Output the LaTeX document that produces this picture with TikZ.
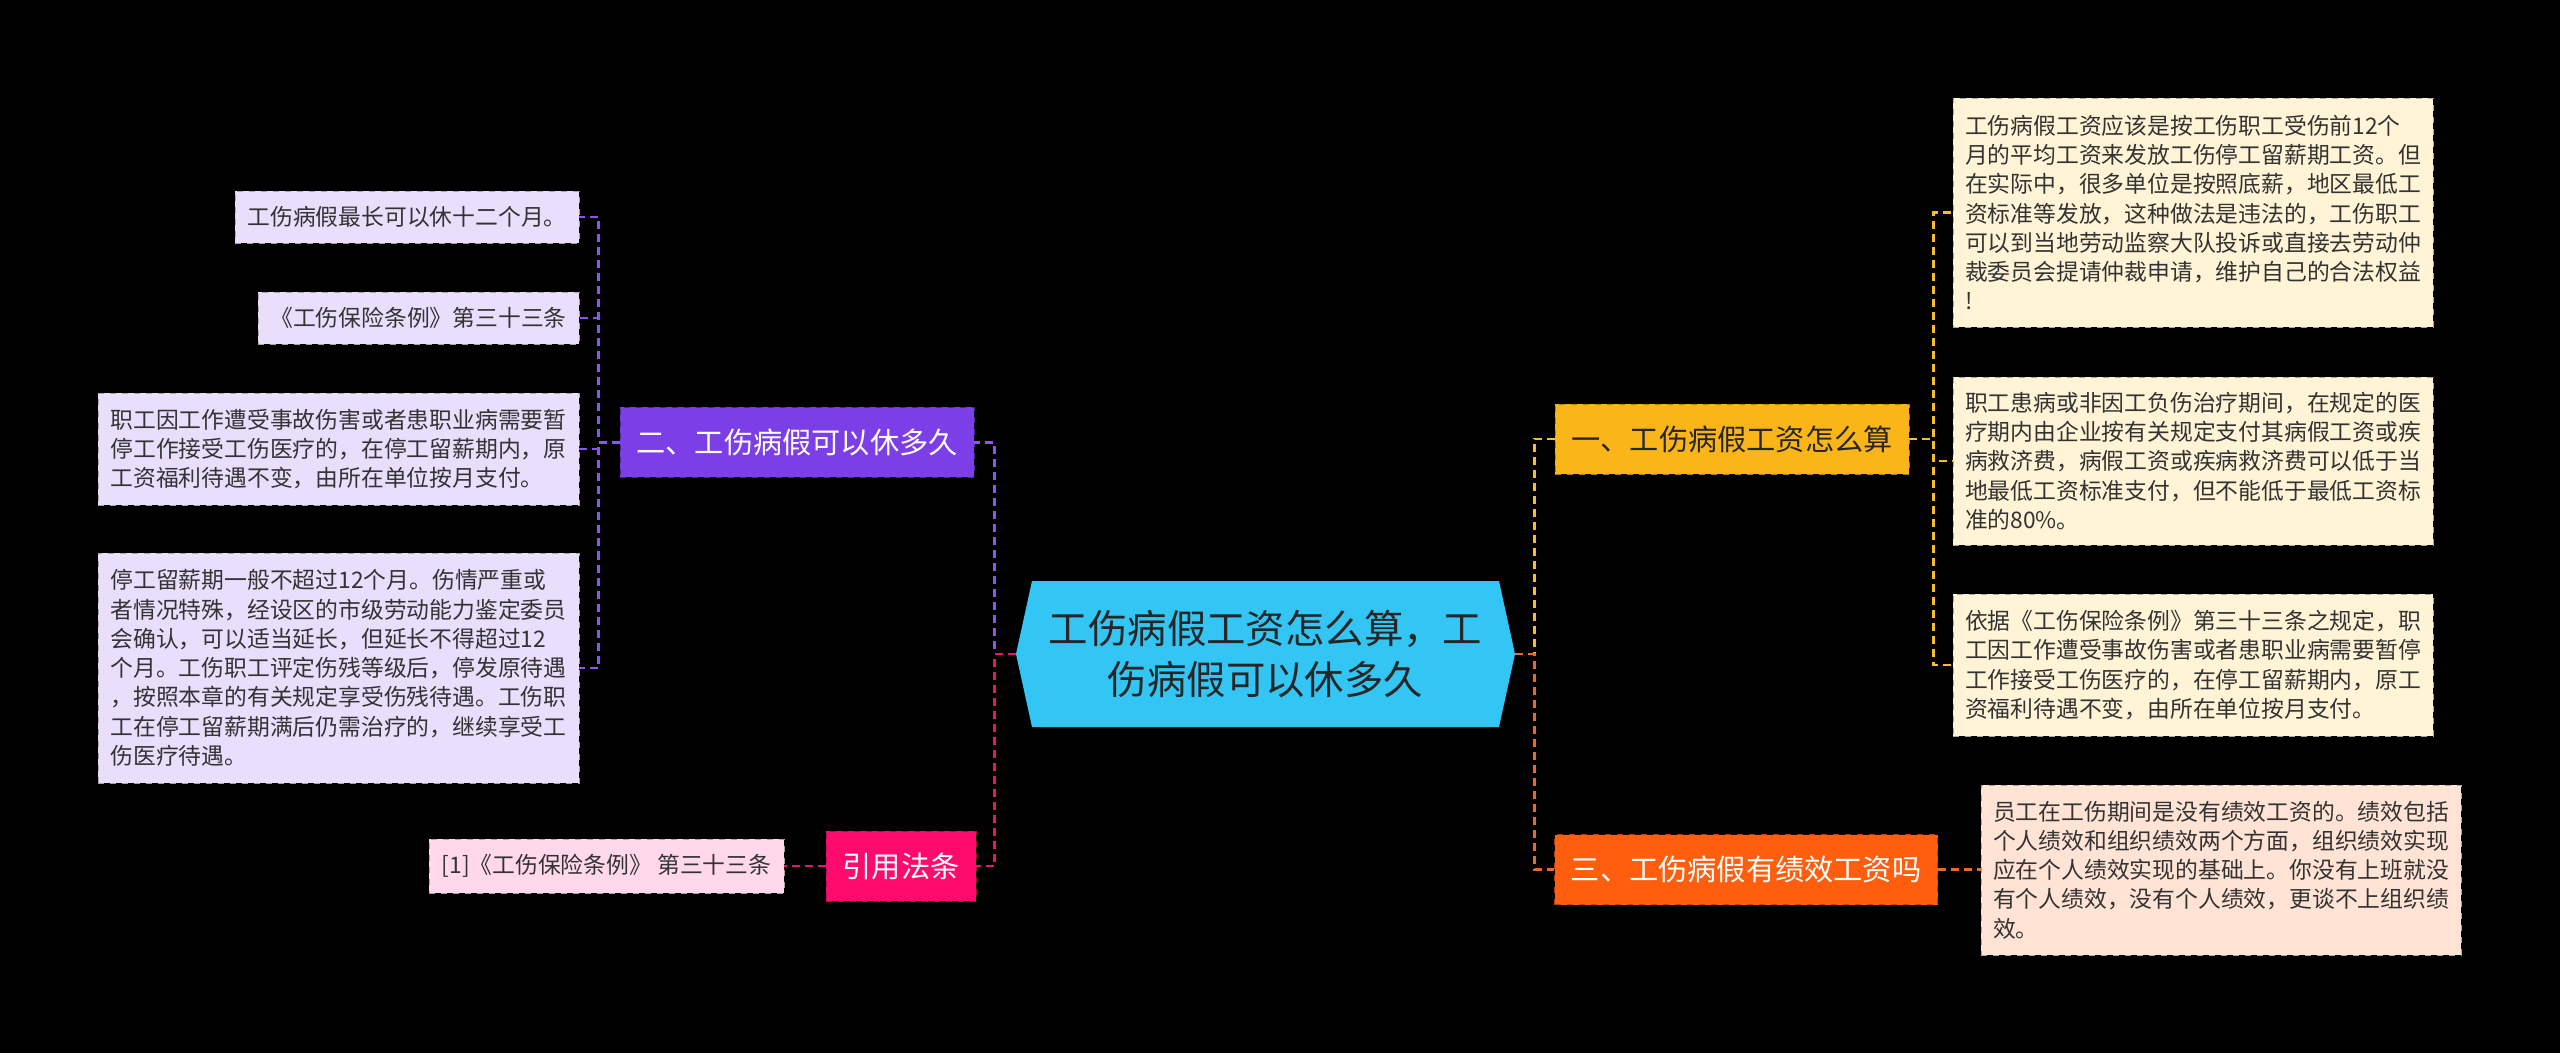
\documentclass[tikz,border=0pt]{standalone}
\usepackage{fontspec}
\setmainfont{Noto Sans CJK SC}
\usepackage{xcolor}
\usetikzlibrary{positioning}

\definecolor{rootblue}{HTML}{33C6F4}
\definecolor{amber}{HTML}{FAB619}
\definecolor{grape}{HTML}{7C3EE6}
\definecolor{flame}{HTML}{FF5E0E}
\definecolor{rose}{HTML}{FF0B6E}
\definecolor{creamleaf}{HTML}{FFF4D6}
\definecolor{peachleaf}{HTML}{FFE3D4}
\definecolor{lilacleaf}{HTML}{E9DEFC}
\definecolor{pinkleaf}{HTML}{FFD8EC}
\definecolor{amberline}{HTML}{F5BE2A}
\definecolor{grapeline}{HTML}{8B55EF}
\definecolor{flameline}{HTML}{E9692C}
\definecolor{roseline}{HTML}{E6166A}

\begin{document}
\begin{tikzpicture}[
    x=0.5pt, y=-0.5pt,
    rootblock/.style={rectangle, minimum width=249.5pt, minimum height=73pt, inner sep=0pt, align=center,
        font=\fontsize{19.7}{25.5}\selectfont, text=black!85,
        path picture={\fill[rootblue] (path picture bounding box.west) -- ([xshift=8pt]path picture bounding box.north west)
            -- ([xshift=-8pt]path picture bounding box.north east) -- (path picture bounding box.east)
            -- ([xshift=-8pt]path picture bounding box.south east) -- ([xshift=8pt]path picture bounding box.south west) -- cycle;}},
    branchblock/.style={rectangle, draw, dashed, thin, minimum height=35pt, inner sep=0pt, font=\fontsize{14.6}{18}\selectfont},
    leafblock/.style={rectangle, draw=black!35, dashed, thin, align=left, inner xsep=5.5pt, inner ysep=0pt, text=black!80,
        font=\fontsize{11.4}{14.65}\selectfont},
    link/.style={line width=1.3pt, dash pattern=on 4pt off 2.5pt}
]
\fill[black] (0,0) rectangle (2560,1053);
\useasboundingbox (0,0) rectangle (2560,1053);

\node[rootblock] (root) at (1265.5,654) {工伤病假工资怎么算，工\\伤病假可以休多久};

% Branches
\node[branchblock, fill=amber, draw=amber!70!black, text=black!85, minimum width=177pt] (wage) at (1732,439) {一、工伤病假工资怎么算};
\node[branchblock, fill=grape, draw=grape!60!black, text=white, minimum width=177pt] (leave) at (797,442.5) {二、工伤病假可以休多久};
\node[branchblock, fill=flame, draw=flame!70!black, text=white, minimum width=191.5pt] (bonus) at (1746,869.5) {三、工伤病假有绩效工资吗};
\node[branchblock, fill=rose, draw=rose!70!black, text=white, minimum width=75pt] (cite) at (901,866) {引用法条};

% Right leaves
\node[leafblock, fill=creamleaf, minimum width=240pt, minimum height=114.5pt] (wagea) at (2193,212.5) {工伤病假工资应该是按工伤职工受伤前12个\\月的平均工资来发放工伤停工留薪期工资。但\\在实际中，很多单位是按照底薪，地区最低工\\资标准等发放，这种做法是违法的，工伤职工\\可以到当地劳动监察大队投诉或直接去劳动仲\\裁委员会提请仲裁申请，维护自己的合法权益\\!};
\node[leafblock, fill=creamleaf, minimum width=240pt, minimum height=84pt] (wageb) at (2193,461) {职工患病或非因工负伤治疗期间，在规定的医\\疗期内由企业按有关规定支付其病假工资或疾\\病救济费，病假工资或疾病救济费可以低于当\\地最低工资标准支付，但不能低于最低工资标\\准的80\%。};
\node[leafblock, fill=creamleaf, minimum width=240pt, minimum height=71pt] (wagec) at (2193,665) {依据《工伤保险条例》第三十三条之规定，职\\工因工作遭受事故伤害或者患职业病需要暂停\\工作接受工伤医疗的，在停工留薪期内，原工\\资福利待遇不变，由所在单位按月支付。};
\node[leafblock, fill=peachleaf, minimum width=240pt, minimum height=85pt] (bonusa) at (2221,870) {员工在工伤期间是没有绩效工资的。绩效包括\\个人绩效和组织绩效两个方面，组织绩效实现\\应在个人绩效实现的基础上。你没有上班就没\\有个人绩效，没有个人绩效，更谈不上组织绩\\效。};

% Left leaves
\node[leafblock, fill=lilacleaf, minimum width=172pt, minimum height=26pt] (leavea) at (407,217) {工伤病假最长可以休十二个月。};
\node[leafblock, fill=lilacleaf, minimum width=160.5pt, minimum height=26pt] (leaveb) at (418.5,318) {《工伤保险条例》第三十三条};
\node[leafblock, fill=lilacleaf, minimum width=240.5pt, minimum height=56pt] (leavec) at (338.5,449) {职工因工作遭受事故伤害或者患职业病需要暂\\停工作接受工伤医疗的，在停工留薪期内，原\\工资福利待遇不变，由所在单位按月支付。};
\node[leafblock, fill=lilacleaf, minimum width=240.5pt, minimum height=115pt] (leaved) at (338.5,668) {停工留薪期一般不超过12个月。伤情严重或\\者情况特殊，经设区的市级劳动能力鉴定委员\\会确认，可以适当延长，但延长不得超过12\\个月。工伤职工评定伤残等级后，停发原待遇\\，按照本章的有关规定享受伤残待遇。工伤职\\工在停工留薪期满后仍需治疗的，继续享受工\\伤医疗待遇。};
\node[leafblock, fill=pinkleaf, minimum width=177.5pt, minimum height=27pt] (citea) at (606.5,866) {[1]《工伤保险条例》 第三十三条};

% Root to branches
\draw[link, amberline] (root.east) -- ++(19,0) |- (wage.west);
\draw[link, flameline] (root.east) -- ++(19,0) |- (bonus.west);
\draw[link, grapeline] (root.west) -- ++(-21,0) |- (leave.east);
\draw[link, roseline] (root.west) -- ++(-21,0) |- (cite.east);

% Branches to leaves
\draw[link, amberline] (wage.east) -- ++(24,0) |- (wagea.west);
\draw[link, amberline] (wage.east) -- ++(24,0) |- (wageb.west);
\draw[link, amberline] (wage.east) -- ++(24,0) |- (wagec.west);
\draw[link, flameline] (bonus.east) -- (bonusa.west |- bonus.east);
\draw[link, grapeline] (leave.west) -- ++(-21,0) |- (leavea.east);
\draw[link, grapeline] (leave.west) -- ++(-21,0) |- (leaveb.east);
\draw[link, grapeline] (leave.west) -- ++(-21,0) |- (leavec.east);
\draw[link, grapeline] (leave.west) -- ++(-21,0) |- (leaved.east);
\draw[link, roseline] (cite.west) -- (citea.east);
\end{tikzpicture}
\end{document}
